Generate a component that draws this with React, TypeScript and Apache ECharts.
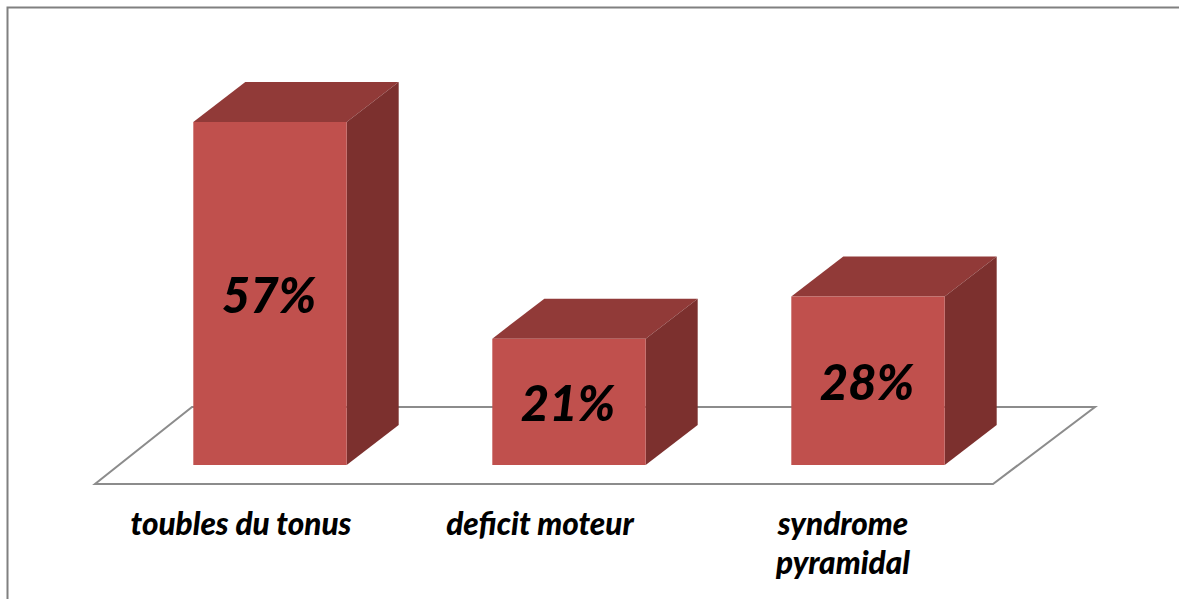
import React, { useEffect, useRef } from "react";
import * as echarts from "echarts";

const categories = ["toubles du tonus", "deficit moteur", "syndrome\npyramidal"];
const values = [57, 21, 28];
const labelShifts = [58, 58, 50];

const FRONT = "#C0504D";
const TOP = "#913A38";
const SIDE = "#7C302E";
const GREY = "#8C8C8C";
const FONT = "Lato, Carlito, sans-serif";

export default function App() {
  const ref = useRef<HTMLDivElement>(null);
  useEffect(() => {
    const chart = echarts.init(ref.current!, undefined, { renderer: "svg" });
    chart.setOption({
      animation: false,
      backgroundColor: "#fff",
      grid: { left: 120.5, width: 897, top: 104, height: 361 },
      xAxis: {
        type: "category",
        data: categories.map((value, i) => ({
          value,
          textStyle: { padding: [0, labelShifts[i], 0, 0] },
        })),
        axisLine: { show: false },
        axisTick: { show: false },
        axisLabel: {
          interval: 0,
          margin: 38,
          color: "#000",
          fontFamily: FONT,
          fontSize: 31.5,
          fontStyle: "italic",
          fontWeight: 900,
          lineHeight: 39,
        },
      },
      yAxis: { type: "value", min: 0, max: 60, show: false },
      graphic: [
        {
          type: "polyline",
          silent: true,
          shape: { points: [[7.5, 599], [7.5, 7.5], [1179, 7.5]] },
          style: { stroke: "#808080", lineWidth: 2, fill: "none" },
        },
        {
          type: "polygon",
          silent: true,
          shape: { points: [[95, 484], [993, 484], [1095, 407], [192, 407]] },
          style: { stroke: GREY, lineWidth: 2, fill: "#fff" },
        },
      ],
      series: [
        {
          type: "custom",
          data: values,
          encode: { x: 0, y: 1 },
          renderItem: (_p: any, api: any) => {
            const v = api.value(1);
            const idx = api.value(0);
            const [cx, top] = api.coord([idx, v]);
            const [, bottom] = api.coord([idx, 0]);
            const w = api.size([1, 0])[0] * 0.513;
            const l = cx - w / 2;
            const r = cx + w / 2;
            const dx = 52;
            const dy = 40;
            return {
              type: "group",
              children: [
                {
                  type: "polygon",
                  shape: { points: [[l, top], [l + dx, top - dy], [r + dx, top - dy], [r, top]] },
                  style: { fill: TOP },
                },
                {
                  type: "polygon",
                  shape: { points: [[r, top], [r + dx, top - dy], [r + dx, bottom - dy], [r, bottom]] },
                  style: { fill: SIDE },
                },
                {
                  type: "rect",
                  shape: { x: l, y: top, width: w, height: bottom - top },
                  style: { fill: FRONT },
                },
                {
                  type: "text",
                  style: {
                    text: `${v}%`,
                    x: cx - 1,
                    y: (top + bottom) / 2 + 0.5,
                    align: "center",
                    verticalAlign: "middle",
                    fill: "#000",
                    fontFamily: FONT,
                    fontSize: 49,
                    fontStyle: "italic",
                    fontWeight: 900,
                  },
                },
              ],
            };
          },
        },
      ],
    });
    return () => chart.dispose();
  }, []);
  return <div ref={ref} style={{ position: "absolute", left: 0, top: 0, width: 1179, height: 599 }} />;
}
